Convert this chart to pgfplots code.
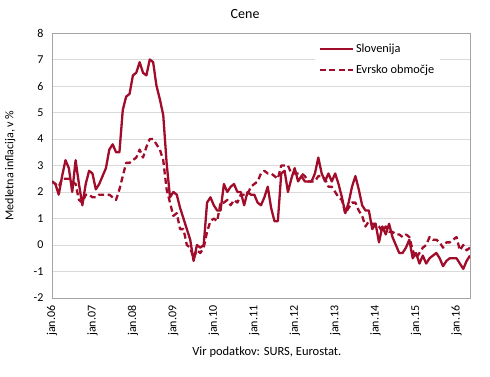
\documentclass[border=0pt]{standalone}
\usepackage{pgfplots}
\usepackage{pgfplotstable}
\pgfplotsset{compat=1.18}
\usepackage{fontspec}
\setmainfont{Carlito}
\definecolor{sired}{RGB}{160,12,42}
\definecolor{gridgray}{RGB}{217,217,217}
\definecolor{boxgray}{RGB}{165,165,165}

\pgfplotstableread{
m si ea
0 2.4 2.4
1 2.3 2.3
2 1.9 2.2
3 2.6 2.5
4 3.2 2.5
5 2.9 2.5
6 2.0 2.4
7 3.2 2.3
8 2.3 1.7
9 1.5 1.6
10 2.3 1.9
11 2.8 1.9
12 2.7 1.8
13 2.1 1.8
14 2.3 1.9
15 2.6 1.9
16 2.9 1.9
17 3.6 1.9
18 3.8 1.8
19 3.5 1.7
20 3.5 2.1
21 5.1 2.6
22 5.6 3.1
23 5.7 3.1
24 6.4 3.2
25 6.5 3.3
26 6.9 3.6
27 6.5 3.3
28 6.4 3.7
29 7.0 4.0
30 6.9 4.0
31 6.0 3.8
32 5.5 3.6
33 4.9 3.2
34 3.1 2.1
35 1.8 1.6
36 2.0 1.1
37 1.9 1.2
38 1.4 0.6
39 1.0 0.6
40 0.6 0.0
41 0.2 -0.1
42 -0.6 -0.5
43 0.0 -0.2
44 -0.1 -0.3
45 0.0 -0.1
46 1.6 0.5
47 1.8 0.9
48 1.5 1.0
49 1.3 0.9
50 1.3 1.6
51 2.3 1.6
52 2.0 1.7
53 2.2 1.5
54 2.3 1.7
55 2.0 1.6
56 2.0 1.9
57 1.5 1.9
58 2.0 1.9
59 1.9 2.2
60 1.9 2.3
61 1.6 2.4
62 1.5 2.7
63 1.8 2.8
64 2.2 2.7
65 1.4 2.7
66 0.9 2.6
67 0.9 2.5
68 2.7 3.0
69 2.8 3.0
70 2.0 3.0
71 2.5 2.7
72 2.9 2.7
73 2.4 2.7
74 2.6 2.7
75 2.4 2.6
76 2.4 2.4
77 2.4 2.4
78 2.7 2.4
79 3.3 2.6
80 2.7 2.6
81 2.4 2.5
82 2.7 2.2
83 2.4 2.2
84 2.7 2.0
85 2.3 1.8
86 1.8 1.7
87 1.2 1.2
88 1.6 1.4
89 2.2 1.6
90 2.6 1.6
91 2.1 1.3
92 1.5 1.1
93 1.3 0.7
94 1.3 0.9
95 0.6 0.8
96 0.8 0.8
97 0.1 0.7
98 0.7 0.5
99 0.4 0.7
100 0.8 0.5
101 0.3 0.5
102 0.0 0.4
103 -0.3 0.4
104 -0.3 0.3
105 -0.1 0.4
106 0.2 0.3
107 -0.5 -0.2
108 -0.3 -0.5
109 -0.7 -0.3
110 -0.4 -0.1
111 -0.7 0.0
112 -0.5 0.3
113 -0.4 0.2
114 -0.3 0.2
115 -0.5 0.1
116 -0.8 -0.1
117 -0.6 0.1
118 -0.5 0.1
119 -0.5 0.2
120 -0.5 0.3
121 -0.7 -0.2
122 -0.9 0.0
123 -0.6 -0.2
124 -0.4 -0.1
}\data

\begin{document}
\begin{tikzpicture}
\useasboundingbox (-52pt,-78pt) rectangle (438pt,298pt);
\begin{axis}[
  at={(0pt,0pt)}, anchor=south west,
  scale only axis, width=418pt, height=265pt,
  xmin=0, xmax=124, ymin=-2, ymax=8,
  xtick={0,12,...,120},
  xticklabels={jan.06,jan.07,jan.08,jan.09,jan.10,jan.11,jan.12,jan.13,jan.14,jan.15,jan.16},
  ytick={-2,-1,...,8},
  ymajorgrids,
  major grid style={draw=gridgray, line width=1pt},
  axis line style={draw=boxgray, line width=0.9pt},
  tick style={draw=none},
  /pgf/number format/assume math mode=true,
  tick label style={font=\fontsize{12}{14}\selectfont},
  xticklabel style={rotate=90, anchor=east},
  xticklabel shift=4pt,
  yticklabel shift=5pt,
  title={Cene},
  title style={at={(axis description cs:0.462,1.049)}, anchor=center, font=\fontsize{14}{16}\selectfont},
  ylabel={Medletna inflacija, v \%},
  ylabel style={at={(axis description cs:-0.1,0.5)}, anchor=center, font=\fontsize{12}{14}\selectfont},
  xlabel={Vir podatkov: SURS, Eurostat.},
  xlabel style={at={(axis description cs:0.514,-0.204)}, anchor=center, font=\fontsize{12.5}{14}\selectfont},
  legend style={at={(axis description cs:0.628,0.978)}, anchor=north west, draw=none, fill=white,
    font=\fontsize{12.3}{14}\selectfont, inner xsep=4pt, inner ysep=3pt, row sep=7pt},
  legend cell align=left,
  legend image code/.code={\draw[#1] (0pt,0pt) -- (33pt,0pt);},
]
\addplot[sired, line width=2.3pt, line join=round] table[x=m, y=si] {\data};
\addlegendentry{Slovenija}
\addplot[sired, line width=2.3pt, line join=round, dash pattern=on 6pt off 3.5pt] table[x=m, y=ea] {\data};
\addlegendentry{Evrsko območje}
\end{axis}
\end{tikzpicture}
\end{document}
